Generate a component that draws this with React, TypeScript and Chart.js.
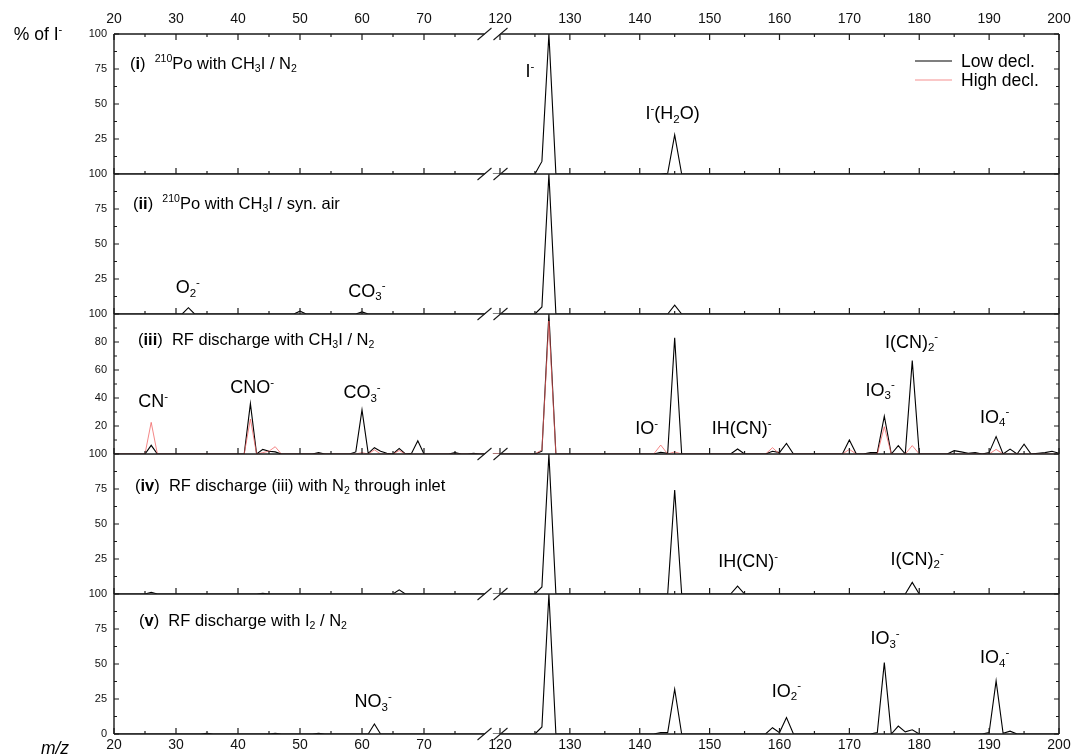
import React, { useEffect, useRef } from 'react';
import { Chart, LinearScale, registerables } from 'chart.js';

Chart.register(...registerables);

const FONT = 'Arial, "Liberation Sans", Helvetica, sans-serif';

// ---------- broken x axis (m/z) ----------
const X_LEFT_RANGE = [20, 80];
const X_RIGHT_RANGE = [119, 200];
const X_MAJOR_TICKS = [20, 30, 40, 50, 60, 70, 120, 130, 140, 150, 160, 170, 180, 190, 200];
const X_MINOR_TICKS = [25, 35, 45, 55, 65, 75, 125, 135, 145, 155, 165, 175, 185, 195];
const SEG_L_END = 0.39365;
const SEG_R_START = 0.40106;

// ---------- data: [m/z, % of I-] ----------
const P1_LOW: [number, number | null][] = [[20, 0], [80, 0], [100, null], [118, 0], [125, 0], [126, 9], [127, 100], [128, 0], [143, 0], [144, 0.5], [145, 28], [146, 0], [200, 0]];

const P2_LOW: [number, number | null][] = [[20, 0], [31, 0], [32, 4.5], [33, 0], [49, 0], [50, 2], [51, 0], [59, 0], [60, 1.5], [61, 0], [80, 0], [100, null], [118, 0], [125, 0], [126, 5], [127, 100], [128, 0], [144, 0], [145, 6.4], [146, 0], [200, 0]];

const P3_LOW: [number, number | null][] = [[20, 0], [25, 0], [26, 6.2], [27, 0], [41, 0], [42, 36], [43, 0], [44, 3.3], [45, 2], [46, 1.5], [47, 0], [52, 0], [53, 1], [54, 0], [58, 0], [59, 1.5], [60, 31.5], [61, 0.5], [62, 4.5], [63, 2], [64, 0.5], [65, 0], [66, 4], [67, 0], [68, 0.5], [69, 9.5], [70, 0], [74, 0], [75, 1], [76, 0], [77, 0], [78, 0.5], [79, 0], [80, 0], [100, null], [118, 0], [125, 0], [126, 2], [127, 100], [128, 0], [142, 0], [143, 1.2], [144, 0.5], [145, 83], [146, 0], [153, 0], [154, 3.6], [155, 0], [158, 0], [159, 2], [160, 1], [161, 7.6], [162, 0], [169, 0], [170, 10], [171, 0], [172, 0], [173, 1], [174, 1], [175, 27], [176, 0], [177, 6], [178, 0], [179, 66.7], [180, 0], [184, 0], [185, 2.4], [186, 1.5], [187, 0.5], [188, 1], [189, 0], [190, 1], [191, 12.4], [192, 0], [193, 3.5], [194, 0], [195, 7], [196, 0], [197, 0.5], [198, 1], [199, 2], [200, 0.5]];

const P3_HIGH: [number, number | null][] = [[20, 0], [25, 0], [26, 22.6], [27, 0], [41, 0], [42, 25], [43, 0], [44, 1], [45, 2], [46, 5.2], [47, 0], [59, 0], [60, 1], [61, 0], [62, 3], [63, 0], [65, 0], [66, 2.5], [67, 0], [80, 0], [100, null], [118, 0], [125, 0], [126, 3], [127, 95], [128, 0], [142, 0], [143, 6.4], [144, 0], [145, 1.5], [146, 0], [158, 0], [159, 4.5], [160, 0], [169, 0], [170, 3.3], [171, 0], [174, 0], [175, 19.5], [176, 0], [178, 0], [179, 6], [180, 0], [190, 0], [191, 3.3], [192, 0], [200, 0]];

const P4_LOW: [number, number | null][] = [[20, 0], [25, 0], [26, 1.2], [27, 0], [43, 0], [44, 0.5], [45, 0], [65, 0], [66, 3], [67, 0], [80, 0], [100, null], [118, 0], [125, 0], [126, 5], [127, 100], [128, 0], [144, 0], [145, 74.3], [146, 0], [153, 0], [154, 5.7], [155, 0], [178, 0], [179, 8.3], [180, 0], [200, 0]];

const P5_LOW: [number, number | null][] = [[20, 0], [34, 0], [35, 0.5], [36, 0], [45, 0], [46, 0.5], [47, 0], [52, 0], [53, 0.5], [54, 0], [61, 0], [62, 7.1], [63, 0], [80, 0], [100, null], [118, 0], [125, 0], [126, 5], [127, 100], [128, 0], [142, 0], [143, 1], [144, 1], [145, 32], [146, 0], [158, 0], [159, 4.5], [160, 1], [161, 11.7], [162, 0], [173, 0], [174, 1], [175, 51], [176, 0], [177, 5.7], [178, 1.5], [179, 3], [180, 0], [189, 0], [190, 1], [191, 37.9], [192, 0.5], [193, 2], [194, 0], [200, 0]];

// ---------- panels ----------
const PANEL_IDS = ['y1', 'y2', 'y3', 'y4', 'y5'];
const PANEL_STEPS = [25, 25, 20, 25, 25];
const PANEL_TITLES = [
  '(*i*)  ^{210}Po with CH_3I / N_2',
  '(*ii*)  ^{210}Po with CH_3I / syn. air',
  '(*iii*)  RF discharge with CH_3I / N_2',
  '(*iv*)  RF discharge (iii) with N_2 through inlet',
  '(*v*)  RF discharge with I_2 / N_2',
];
const TITLE_POS = [[130, 29], [133, 29], [138, 25], [135, 31], [139, 26]];

// peak labels: panel axis, m/z, value (label centre)
const PEAK_LABELS: { axis: string; mz: number; v: number; text: string }[] = [
  { axis: 'y1', mz: 124.3, v: 73.6, text: 'I^-' },
  { axis: 'y1', mz: 144.7, v: 43.6, text: 'I^-(H_2O)' },
  { axis: 'y2', mz: 31.9, v: 19.3, text: 'O_2^-' },
  { axis: 'y2', mz: 60.8, v: 17, text: 'CO_3^-' },
  { axis: 'y3', mz: 26.3, v: 37.9, text: 'CN^-' },
  { axis: 'y3', mz: 42.3, v: 47.9, text: 'CNO^-' },
  { axis: 'y3', mz: 60, v: 44.3, text: 'CO_3^-' },
  { axis: 'y3', mz: 141, v: 18.6, text: 'IO^-' },
  { axis: 'y3', mz: 154.6, v: 18.6, text: 'IH(CN)^-' },
  { axis: 'y3', mz: 174.4, v: 46.4, text: 'IO_3^-' },
  { axis: 'y3', mz: 178.9, v: 80.7, text: 'I(CN)_2^-' },
  { axis: 'y3', mz: 190.8, v: 27.1, text: 'IO_4^-' },
  { axis: 'y4', mz: 155.5, v: 23.6, text: 'IH(CN)^-' },
  { axis: 'y4', mz: 179.7, v: 25.7, text: 'I(CN)_2^-' },
  { axis: 'y5', mz: 61.8, v: 23.6, text: 'NO_3^-' },
  { axis: 'y5', mz: 161, v: 31.4, text: 'IO_2^-' },
  { axis: 'y5', mz: 175.1, v: 68.6, text: 'IO_3^-' },
  { axis: 'y5', mz: 190.8, v: 55, text: 'IO_4^-' },
];

const LEGEND_ITEMS = [
  { label: 'Low decl.', color: '#000000' },
  { label: 'High decl.', color: '#f59090' },
];

function mzToFrac(v: number): number {
  const [a0, a1] = X_LEFT_RANGE;
  const [b0, b1] = X_RIGHT_RANGE;
  if (v <= a1) return ((v - a0) / (a1 - a0)) * SEG_L_END;
  if (v >= b0) return SEG_R_START + ((v - b0) / (b1 - b0)) * (1 - SEG_R_START);
  return SEG_L_END + ((v - a1) / (b0 - a1)) * (SEG_R_START - SEG_L_END);
}
function fracToMz(f: number): number {
  const [a0, a1] = X_LEFT_RANGE;
  const [b0, b1] = X_RIGHT_RANGE;
  if (f <= SEG_L_END) return a0 + (f / SEG_L_END) * (a1 - a0);
  if (f >= SEG_R_START) return b0 + ((f - SEG_R_START) / (1 - SEG_R_START)) * (b1 - b0);
  return a1 + ((f - SEG_L_END) / (SEG_R_START - SEG_L_END)) * (b0 - a1);
}

class BrokenScale extends (LinearScale as any) {
  static id = 'broken';
  static defaults = (LinearScale as any).defaults;
  getPixelForValue(value: any) {
    if (value === null || value === undefined || isNaN(value)) return NaN;
    return (this as any).getPixelForDecimal(mzToFrac(+value));
  }
  getValueForPixel(pixel: number) {
    return fracToMz((this as any).getDecimalForPixel(pixel));
  }
}
Chart.register(BrokenScale as any);

type Run = { t: string; k: 'n' | 'sub' | 'sup'; b: boolean };
function parseRich(s: string): Run[] {
  const runs: Run[] = [];
  let bold = false;
  let buf = '';
  let i = 0;
  const flush = () => {
    if (buf) runs.push({ t: buf, k: 'n', b: bold });
    buf = '';
  };
  while (i < s.length) {
    const c = s[i];
    if (c === '*') { flush(); bold = !bold; i++; continue; }
    if (c === '_' || c === '^') {
      flush();
      let t = '';
      if (s[i + 1] === '{') {
        const j = s.indexOf('}', i + 2);
        t = s.slice(i + 2, j);
        i = j + 1;
      } else {
        t = s[i + 1];
        i += 2;
      }
      runs.push({ t, k: c === '_' ? 'sub' : 'sup', b: bold });
      continue;
    }
    buf += c;
    i++;
  }
  flush();
  return runs;
}

function drawRich(ctx: CanvasRenderingContext2D, text: string, x: number, yMid: number, size: number, align: 'left' | 'center', italic = false) {
  const runs = parseRich(text);
  const small = size * 0.64;
  const f = (r: Run) => `${italic ? 'italic ' : ''}${r.b ? 'bold ' : ''}${r.k === 'n' ? size : small}px ${FONT}`;
  let w = 0;
  for (const r of runs) { ctx.font = f(r); w += ctx.measureText(r.t).width; }
  let cx = align === 'center' ? x - w / 2 : x;
  const base = yMid + size * 0.36;
  ctx.textAlign = 'left';
  ctx.textBaseline = 'alphabetic';
  for (const r of runs) {
    ctx.font = f(r);
    const dy = r.k === 'sub' ? size * 0.2 : r.k === 'sup' ? -size * 0.42 : 0;
    ctx.fillText(r.t, cx, base + dy);
    cx += ctx.measureText(r.t).width;
  }
}

const decor = {
  id: 'decor',
  afterDraw(chart: any) {
    const ctx: CanvasRenderingContext2D = chart.ctx;
    const ca = chart.chartArea;
    const xs = chart.scales.x;
    const L = ca.left, R = ca.right;
    const b1 = xs.getPixelForValue(X_LEFT_RANGE[1]) - 1.5;
    const b2 = xs.getPixelForValue(X_RIGHT_RANGE[0]) + 7.5;
    ctx.save();
    ctx.strokeStyle = '#1a1a1a';
    ctx.fillStyle = '#000';
    ctx.lineCap = 'butt';

    const hLine = (y: number) => {
      ctx.lineWidth = 1.4;
      ctx.beginPath();
      ctx.moveTo(L, y); ctx.lineTo(b1, y);
      ctx.moveTo(b2, y); ctx.lineTo(R, y);
      ctx.stroke();
      ctx.lineWidth = 1.1;
      ctx.beginPath();
      for (const c of [b1, b2]) { ctx.moveTo(c - 7, y + 6); ctx.lineTo(c + 7, y - 6); }
      ctx.stroke();
    };
    const xTicks = (y: number, dir: number) => {
      ctx.lineWidth = 1.2;
      ctx.beginPath();
      for (const v of X_MAJOR_TICKS) { const p = xs.getPixelForValue(v); ctx.moveTo(p, y); ctx.lineTo(p, y + dir * 6); }
      for (const v of X_MINOR_TICKS) { const p = xs.getPixelForValue(v); ctx.moveTo(p, y); ctx.lineTo(p, y + dir * 3); }
      ctx.stroke();
    };

    // frame
    hLine(ca.top);
    xTicks(ca.top, 1);
    PANEL_IDS.forEach((id) => {
      const ys = chart.scales[id];
      hLine(ys.bottom);
      xTicks(ys.bottom, -1);
    });
    ctx.lineWidth = 1.4;
    ctx.beginPath();
    ctx.moveTo(L, ca.top); ctx.lineTo(L, ca.bottom);
    ctx.moveTo(R, ca.top); ctx.lineTo(R, ca.bottom);
    ctx.stroke();

    // y ticks (inward, both sides)
    ctx.lineWidth = 1.2;
    ctx.beginPath();
    PANEL_IDS.forEach((id, k) => {
      const ys = chart.scales[id];
      const step = PANEL_STEPS[k];
      for (let v = 0; v <= 100; v += step / 2) {
        const major = Math.abs(v / step - Math.round(v / step)) < 1e-6;
        const len = major ? 5 : 3;
        const y = ys.getPixelForValue(v);
        ctx.moveTo(L, y); ctx.lineTo(L + len, y);
        ctx.moveTo(R, y); ctx.lineTo(R - len, y);
      }
    });
    ctx.stroke();

    // panel titles
    PANEL_IDS.forEach((id, k) => {
      const ys = chart.scales[id];
      drawRich(ctx, PANEL_TITLES[k], TITLE_POS[k][0], ys.top + TITLE_POS[k][1], 16.5, 'left');
    });

    // peak labels
    for (const a of PEAK_LABELS) {
      const ys = chart.scales[a.axis];
      drawRich(ctx, a.text, xs.getPixelForValue(a.mz), ys.getPixelForValue(a.v), 18, 'center');
    }

    // legend
    LEGEND_ITEMS.forEach((it, i) => {
      const y = ca.top + 27 + i * 19;
      ctx.strokeStyle = it.color;
      ctx.lineWidth = 1.2;
      ctx.beginPath();
      ctx.moveTo(R - 144, y); ctx.lineTo(R - 107, y);
      ctx.stroke();
      ctx.fillStyle = '#000';
      drawRich(ctx, it.label, R - 98, y, 17.5, 'left');
    });

    // axis titles
    drawRich(ctx, '% of I^-', 38, 34, 17.5, 'center');
    drawRich(ctx, 'm/z', 55, 748, 17.5, 'center', true);
    ctx.restore();
  },
};

function toPoints(arr: [number, number | null][]) {
  return arr.map(([x, y]) => ({ x, y }));
}

export default function App() {
  const ref = useRef<HTMLCanvasElement>(null);
  useEffect(() => {
    const canvas = ref.current!;
    const lowSeries = [P1_LOW, P2_LOW, P3_LOW, P4_LOW, P5_LOW];
    const datasets: any[] = [];
    lowSeries.forEach((s, k) => {
      datasets.push({
        label: 'Low decl.',
        data: toPoints(s),
        xAxisID: 'x',
        yAxisID: PANEL_IDS[k],
        borderColor: '#000000',
        borderWidth: 1.1,
        pointRadius: 0,
        tension: 0,
        spanGaps: false,
        order: 1,
      });
    });
    datasets.push({
      label: 'High decl.',
      data: toPoints(P3_HIGH),
      xAxisID: 'x',
      yAxisID: 'y3',
      borderColor: 'rgba(240,95,95,0.75)',
      borderWidth: 1,
      pointRadius: 0,
      tension: 0,
      spanGaps: false,
      order: 0,
    });

    const xAxis = (pos: 'top' | 'bottom') => ({
      type: 'broken',
      position: pos,
      min: 20,
      max: 200,
      grid: { display: false, drawTicks: false },
      border: { display: false },
      ticks: {
        autoSkip: false,
        maxRotation: 0,
        minRotation: 0,
        padding: pos === 'top' ? 6 : 3,
        color: '#111',
        font: { family: FONT, size: 14 },
        callback: (v: any) => String(v),
      },
      afterBuildTicks: (s: any) => { s.ticks = X_MAJOR_TICKS.map((v) => ({ value: v })); },
      afterFit: (s: any) => {
        s.height = pos === 'top' ? 34 : 21;
        s.paddingLeft = 0;
        s.paddingRight = 0;
      },
    });
    const yAxis = (k: number) => ({
      type: 'linear',
      position: 'left',
      stack: 'panels',
      stackWeight: 1,
      offset: false,
      min: 0,
      max: 100,
      grid: { display: false, drawTicks: false },
      border: { display: false },
      ticks: {
        stepSize: PANEL_STEPS[k],
        autoSkip: false,
        padding: 7,
        color: '#111',
        font: { family: FONT, size: 11 },
        callback: (v: any) => (v === 0 && k < 4 ? '' : String(v)),
      },
      afterFit: (s: any) => {
        s.width = 114;
        s.paddingTop = 0;
        s.paddingBottom = 0;
      },
    });

    const scales: any = { x: xAxis('bottom'), xTop: xAxis('top') };
    for (let k = 4; k >= 0; k--) scales[PANEL_IDS[k]] = yAxis(k);

    const chart = new Chart(canvas, {
      type: 'line',
      data: { datasets },
      options: {
        responsive: false,
        animation: false,
        devicePixelRatio: 1,
        layout: { padding: { left: 0, right: 13, top: 0, bottom: 0 } },
        plugins: { legend: { display: false }, tooltip: { enabled: false }, title: { display: false } },
        elements: { point: { radius: 0 }, line: { tension: 0 } },
        scales,
      } as any,
      plugins: [decor],
    });
    return () => chart.destroy();
  }, []);
  return (
    <div style={{ position: 'fixed', left: 0, top: 0, width: 1072, height: 755, background: '#fff' }}>
      <canvas ref={ref} width={1072} height={755} style={{ display: 'block' }} />
    </div>
  );
}
